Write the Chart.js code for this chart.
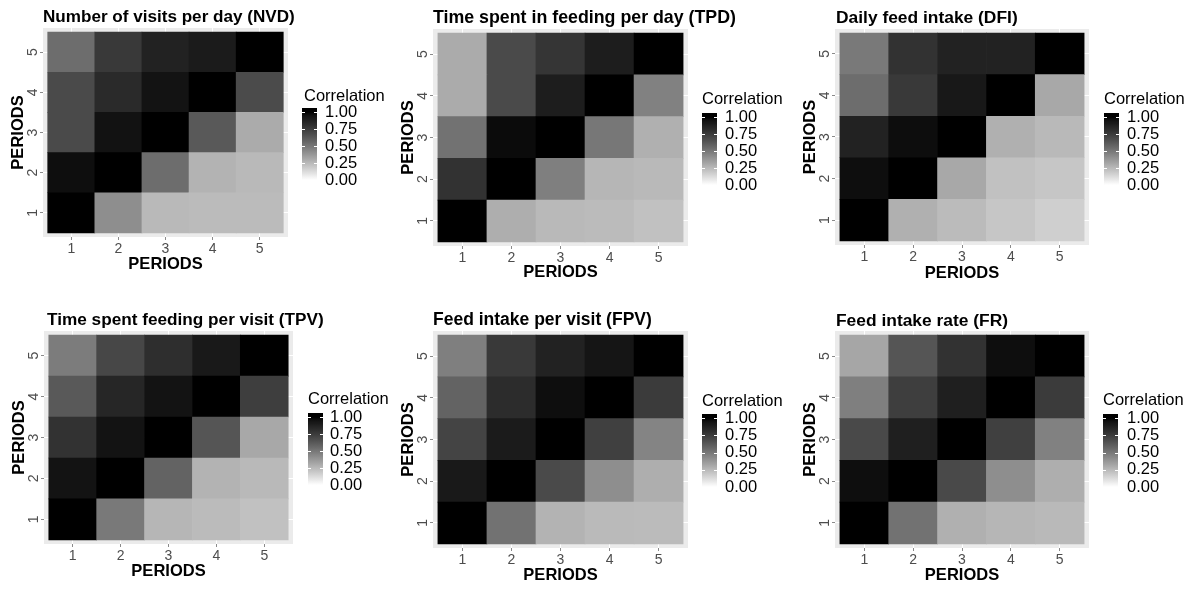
<!DOCTYPE html>
<html>
<head>
<meta charset="utf-8">
<script src="https://cdn.jsdelivr.net/npm/chart.js@4.4.1/dist/chart.umd.min.js"></script>
<style>
  html, body { margin: 0; padding: 0; background: #ffffff; }
  #wrap { position: relative; width: 1200px; height: 589px; overflow: hidden; background: #ffffff; }
  #wrap canvas { position: absolute; left: 0; top: 0; pointer-events: none; }
</style>
</head>
<body>
<div id="wrap">
  <canvas id="c1" width="1200" height="589"></canvas>
  <canvas id="c2" width="1200" height="589"></canvas>
  <canvas id="c3" width="1200" height="589"></canvas>
  <canvas id="c4" width="1200" height="589"></canvas>
  <canvas id="c5" width="1200" height="589"></canvas>
  <canvas id="c6" width="1200" height="589"></canvas>
</div>
<script>
// ---------------- data ----------------
const periods = [1, 2, 3, 4, 5];
const tickLabels = ['1', '2', '3', '4', '5'];
const legendTicks = [0, 0.25, 0.5, 0.75, 1];
const legendLabels = ['0.00', '0.25', '0.50', '0.75', '1.00'];
const axisTitle = 'PERIODS';
const legendTitle = 'Correlation';

const titles = [
  'Number of visits per day (NVD)',
  'Time spent in feeding per day (TPD)',
  'Daily feed intake (DFI)',
  'Time spent feeding per visit (TPV)',
  'Feed intake per visit (FPV)',
  'Feed intake rate (FR)'
];

// rows: period on y axis (1..5), each row = values for x periods 1..5
const nvd = [
  [1.00, 0.41, 0.25, 0.24, 0.24],
  [0.96, 1.00, 0.54, 0.27, 0.25],
  [0.685, 0.945, 1.00, 0.62, 0.30],
  [0.685, 0.83, 0.94, 1.00, 0.68],
  [0.54, 0.76, 0.87, 0.90, 1.00]
];
const tpd = [
  [1.00, 0.29, 0.25, 0.24, 0.22],
  [0.79, 1.00, 0.47, 0.26, 0.25],
  [0.52, 0.97, 1.00, 0.50, 0.28],
  [0.30, 0.685, 0.89, 1.00, 0.46],
  [0.30, 0.685, 0.78, 0.89, 1.00]
];
const dfi = [
  [1.00, 0.28, 0.24, 0.20, 0.17],
  [0.96, 1.00, 0.31, 0.22, 0.20],
  [0.87, 0.965, 1.00, 0.28, 0.25],
  [0.54, 0.76, 0.92, 1.00, 0.31],
  [0.49, 0.79, 0.87, 0.87, 1.00]
];
const tpv = [
  [1.00, 0.49, 0.26, 0.24, 0.22],
  [0.94, 1.00, 0.58, 0.27, 0.25],
  [0.79, 0.94, 1.00, 0.64, 0.31],
  [0.62, 0.85, 0.94, 1.00, 0.74],
  [0.48, 0.70, 0.81, 0.91, 1.00]
];
const fpv = [
  [1.00, 0.52, 0.27, 0.245, 0.24],
  [0.91, 1.00, 0.685, 0.41, 0.29],
  [0.71, 0.90, 1.00, 0.73, 0.45],
  [0.58, 0.82, 0.96, 1.00, 0.75],
  [0.47, 0.76, 0.87, 0.93, 1.00]
];
const fr = [
  [1.00, 0.52, 0.28, 0.26, 0.25],
  [0.96, 1.00, 0.69, 0.41, 0.29],
  [0.69, 0.88, 1.00, 0.73, 0.46],
  [0.47, 0.74, 0.88, 1.00, 0.75],
  [0.32, 0.64, 0.79, 0.96, 1.00]
];
const matrices = [nvd, tpd, dfi, tpv, fpv, fr];

// ---------------- layout (pixels) ----------------
const geom = [
  {bg: {l: 43,  r: 288,  t: 28,  b: 237}, titleL: 43,  titleSize: 17.1, titleCY: 17,  yTitleCX: 18,  xTitleCY: 264, leg: {tx: 304,  ty: 96,  bx: 302,  y1: 112, y0: 180, lx: 325}},
  {bg: {l: 433, r: 688,  t: 29,  b: 246}, titleL: 433, titleSize: 17.8, titleCY: 18,  yTitleCX: 408, xTitleCY: 272, leg: {tx: 702,  ty: 99,  bx: 702,  y1: 117, y0: 185, lx: 725}},
  {bg: {l: 835, r: 1089, t: 29,  b: 245}, titleL: 836, titleSize: 17.4, titleCY: 18,  yTitleCX: 810, xTitleCY: 273, leg: {tx: 1104, ty: 99,  bx: 1104, y1: 117, y0: 185, lx: 1127}},
  {bg: {l: 44,  r: 293,  t: 331, b: 544}, titleL: 47,  titleSize: 17.2, titleCY: 320, yTitleCX: 19,  xTitleCY: 571, leg: {tx: 308,  ty: 399, bx: 308,  y1: 417, y0: 485, lx: 330}},
  {bg: {l: 433, r: 688,  t: 331, b: 548}, titleL: 433, titleSize: 17.5, titleCY: 320, yTitleCX: 408, xTitleCY: 575, leg: {tx: 702,  ty: 401, bx: 702,  y1: 418, y0: 487, lx: 725}},
  {bg: {l: 835, r: 1089, t: 331, b: 548}, titleL: 836, titleSize: 17.4, titleCY: 321, yTitleCX: 810, xTitleCY: 575, leg: {tx: 1103, ty: 400, bx: 1103, y1: 418, y0: 487, lx: 1127}}
];

const FONT = "'Liberation Sans', Arial, Helvetica, sans-serif";

// white -> black gradient interpolated in Lab (like ggplot2 scale_fill_gradient)
function corrColor(v) {
  const L = 100 * (1 - Math.max(0, Math.min(1, v)));
  const fy = (L + 16) / 116;
  const Y = L > 8 ? fy * fy * fy : L / 903.3;
  const c = Y <= 0.0031308 ? 12.92 * Y : 1.055 * Math.pow(Y, 1 / 2.4) - 0.055;
  const g = Math.round(255 * Math.max(0, Math.min(1, c)));
  return 'rgb(' + g + ',' + g + ',' + g + ')';
}

const panelBg = {
  id: 'panelBg',
  afterLayout(chart, args, opts) {
    // let the title run wider than the panel (as in the reference)
    const t = chart.titleBlock;
    if (t && opts.titleL !== undefined) {
      t.left = opts.titleL;
      t.right = opts.titleL + 420;
      t.width = 420;
    }
  },
  beforeDraw(chart) {
    const a = chart.chartArea, ctx = chart.ctx;
    ctx.save();
    ctx.fillStyle = '#EBEBEB';
    ctx.fillRect(a.left, a.top, a.right - a.left, a.bottom - a.top);
    ctx.restore();
  }
};

const corrLegend = {
  id: 'corrLegend',
  afterDraw(chart, args, opts) {
    const g = opts.leg;
    if (!g) return;
    const ctx = chart.ctx;
    ctx.save();
    ctx.fillStyle = '#000000';
    ctx.font = '16.5px ' + FONT;
    ctx.textAlign = 'left';
    ctx.textBaseline = 'middle';
    ctx.fillText(legendTitle, g.tx, g.ty);
    const bw = 15;
    const top = g.y1 - 4, bot = g.y0 + 3;
    const grad = ctx.createLinearGradient(0, g.y1, 0, g.y0);
    for (let i = 0; i <= 40; i++) {
      grad.addColorStop(i / 40, corrColor(1 - i / 40));
    }
    ctx.fillStyle = grad;
    ctx.fillRect(g.bx, top, bw, bot - top);
    ctx.strokeStyle = '#ffffff';
    ctx.lineWidth = 1;
    legendTicks.forEach((t, i) => {
      const y = Math.round(g.y0 + (g.y1 - g.y0) * t) + 0.5;
      ctx.beginPath();
      ctx.moveTo(g.bx, y); ctx.lineTo(g.bx + 3, y);
      ctx.moveTo(g.bx + bw - 3, y); ctx.lineTo(g.bx + bw, y);
      ctx.stroke();
      ctx.fillStyle = '#000000';
      ctx.fillText(legendLabels[i], g.lx, g.y0 + (g.y1 - g.y0) * t);
    });
    ctx.restore();
  }
};

function makeChart(id, idx) {
  const m = matrices[idx];
  const G = geom[idx];
  const yTitleLH = 16.5 * 1.2, titleLH = G.titleSize * 1.2;
  const padLeft = G.yTitleCX - yTitleLH / 2;
  const padTop = G.titleCY - titleLH / 2;
  const padBottom = 589 - (G.xTitleCY + yTitleLH / 2);
  const padRight = 1200 - G.bg.r;
  const yScaleW = G.bg.l - padLeft;
  const xScaleH = G.xTitleCY + yTitleLH / 2 - G.bg.b;
  const titlePadBottom = G.bg.t - padTop - titleLH;

  const datasets = periods.map((yp, ri) => ({
    data: periods.map((xp, ci) => ({x: xp, y: [yp - 0.5, yp + 0.5]})),
    backgroundColor: m[ri].map(v => corrColor(v)),
    borderWidth: 0,
    grouped: false,
    barPercentage: 1,
    categoryPercentage: 1
  }));

  new Chart(document.getElementById(id), {
    type: 'bar',
    data: { datasets },
    options: {
      responsive: false,
      animation: false,
      events: [],
      layout: { padding: { left: padLeft, top: padTop, right: padRight, bottom: padBottom } },
      plugins: {
        legend: { display: false },
        tooltip: { enabled: false },
        title: {
          display: true,
          text: titles[idx],
          align: 'start',
          fullSize: false,
          color: '#000000',
          font: { family: FONT, size: G.titleSize, weight: 'bold' },
          padding: { top: 0, bottom: titlePadBottom }
        },
        panelBg: { titleL: G.titleL },
        corrLegend: { leg: G.leg }
      },
      scales: {
        x: {
          type: 'linear',
          min: 0.4, max: 5.6,
          offset: false,
          afterBuildTicks: s => { s.ticks = periods.map(v => ({value: v})); },
          afterFit: s => { s.height = xScaleH; },
          grid: { offset: false, color: '#ffffff', lineWidth: 1, tickColor: '#8a8a8a', tickLength: 3, drawTicks: true },
          border: { display: false },
          ticks: {
            color: '#4D4D4D', padding: 0.5, maxRotation: 0, autoSkip: false,
            font: { family: FONT, size: 14 },
            callback: (v) => tickLabels[periods.indexOf(v)]
          },
          title: { display: true, text: axisTitle, color: '#000000', padding: 0,
                   font: { family: FONT, size: 16.5, weight: 'bold' } }
        },
        y: {
          type: 'linear',
          min: 0.4, max: 5.6,
          afterBuildTicks: s => { s.ticks = periods.map(v => ({value: v})); },
          afterFit: s => { s.width = yScaleW; },
          grid: { offset: false, color: '#ffffff', lineWidth: 1, tickColor: '#8a8a8a', tickLength: 3, drawTicks: true },
          border: { display: false },
          ticks: {
            color: '#4D4D4D', padding: 3, minRotation: 90, maxRotation: 90, crossAlign: 'center',
            autoSkip: false,
            font: { family: FONT, size: 14 },
            callback: (v) => tickLabels[periods.indexOf(v)]
          },
          title: { display: true, text: axisTitle, color: '#000000', padding: 0,
                   font: { family: FONT, size: 16.5, weight: 'bold' } }
        }
      }
    },
    plugins: [panelBg, corrLegend]
  });
}

['c1', 'c2', 'c3', 'c4', 'c5', 'c6'].forEach((id, i) => makeChart(id, i));
</script>
</body>
</html>
